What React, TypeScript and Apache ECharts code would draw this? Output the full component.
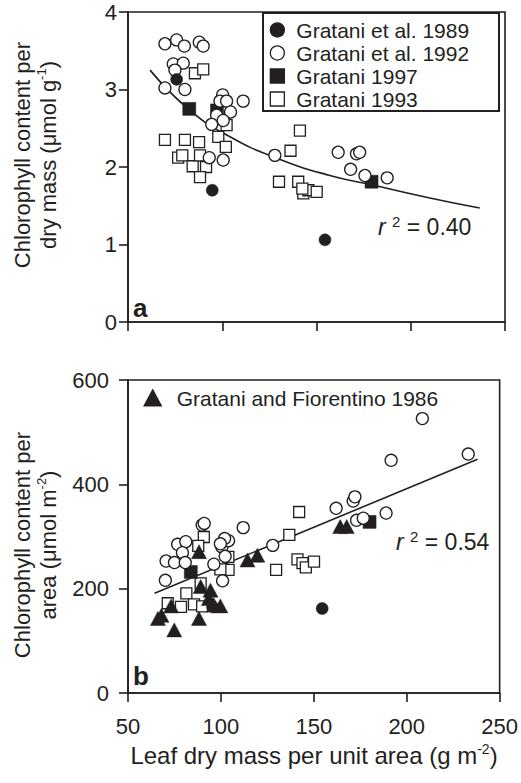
import React, { useEffect, useRef } from "react";
import * as echarts from "echarts";

const FONT = "'Liberation Sans', Arial, Helvetica, sans-serif";
const INK = "#231f20";

// shared x axis
const X_MIN = 50;
const X_MAX = 250;
const X_STEP = 50;

// y axes
const MASS_Y_MIN = 0;
const MASS_Y_MAX = 4;
const MASS_Y_STEP = 1;
const AREA_Y_MIN = 0;
const AREA_Y_MAX = 600;
const AREA_Y_STEP = 200;

const N1989 = "Gratani et al. 1989";
const N1992 = "Gratani et al. 1992";
const N1997 = "Gratani 1997";
const N1993 = "Gratani 1993";
const N1986 = "Gratani and Fiorentino 1986";
const LEGEND_TOP = [N1989, N1992, N1997, N1993];

// ---- panel a: chlorophyll per dry mass (µmol g-1) ----
const massG1989 = [[75.8, 3.13], [94.7, 1.70], [154.5, 1.06]];
const massG1992 = [
  [69.6, 3.59], [75.8, 3.64], [79.9, 3.56], [87.8, 3.61], [89.9, 3.56],
  [74.0, 3.33], [79.3, 3.34], [74.9, 3.25], [69.6, 3.02], [80.2, 3.00],
  [100.2, 2.93], [98.8, 2.85], [102.3, 2.85], [111.1, 2.85], [104.4, 2.71],
  [97.0, 2.67], [100.5, 2.60], [94.4, 2.55], [93.1, 2.12], [100.5, 2.09],
  [127.9, 2.15], [161.5, 2.19], [171.2, 2.17], [172.9, 2.19], [168.1, 1.97],
  [175.7, 1.89], [187.5, 1.86],
];
const massG1997 = [[82.5, 2.75], [97.2, 2.73], [179.2, 1.81]];
const massG1993 = [
  [85.5, 3.21], [89.9, 3.26], [69.6, 2.35], [80.2, 2.35], [87.7, 2.32],
  [76.6, 2.12], [78.8, 2.15], [84.3, 2.01], [88.2, 2.15], [91.4, 2.00],
  [88.2, 1.87], [102.3, 2.54], [97.9, 2.39], [101.9, 2.26], [141.2, 2.47],
  [136.2, 2.21], [130.1, 1.81], [140.3, 1.81], [143.0, 1.66], [145.7, 1.70],
  [150.1, 1.68], [142.5, 1.72],
];
const massFitCurve = [
  [61.7, 3.25], [82.9, 2.73], [104.1, 2.39], [128.3, 2.12], [157.1, 1.89],
  [179.2, 1.77], [210.1, 1.60], [236.6, 1.47],
];

// ---- panel b: chlorophyll per area (µmol m-2) ----
const areaG1989 = [[95.5, 165], [154.5, 162]];
const areaG1992 = [
  [89.9, 322], [91.0, 325], [112.0, 317], [76.7, 285], [81.1, 290],
  [79.3, 269], [70.5, 253], [75.0, 250], [80.8, 250], [70.1, 216],
  [100.5, 280], [104.1, 292], [102.0, 296], [99.7, 286], [102.3, 262],
  [96.2, 247], [100.9, 215], [127.9, 283], [162.0, 354], [171.2, 368],
  [172.1, 376], [173.0, 331], [176.6, 335], [188.9, 345], [191.6, 446],
  [208.4, 526], [233.1, 458],
];
const areaG1997 = [[83.8, 232], [180.0, 328]];
const areaG1993 = [
  [90.8, 299], [87.8, 282], [81.4, 191], [71.4, 172], [78.5, 165],
  [85.5, 170], [89.9, 166], [89.1, 210], [104.1, 236], [99.7, 237],
  [104.0, 261], [129.7, 236], [136.8, 303], [142.1, 347], [141.2, 256],
  [143.9, 249], [145.7, 241], [150.1, 252],
];
const areaGF1986 = [
  [88.2, 271], [114.3, 255], [119.6, 264], [89.1, 204], [94.4, 197],
  [93.5, 181], [96.2, 169], [99.7, 167], [73.2, 167], [66.1, 143],
  [68.0, 149], [88.2, 143], [74.9, 121], [164.2, 319], [167.7, 319],
];
const areaFitLine = [[64.3, 191], [238.1, 448]];

const R2_A = "0.40";
const R2_B = "0.54";

function scatter(name: string, panel: number, data: number[][], symbol: string, size: any, filled: boolean) {
  return {
    type: "scatter",
    name,
    xAxisIndex: panel,
    yAxisIndex: panel,
    data,
    symbol,
    symbolSize: size,
    silent: true,
    emphasis: { disabled: true },
    itemStyle: filled
      ? { color: INK, borderColor: INK, borderWidth: 0.5, opacity: 1 }
      : { color: "#fff", borderColor: INK, borderWidth: 1.3, opacity: 1 },
  };
}

function fitLine(name: string, panel: number, data: number[][], smooth: boolean) {
  return {
    type: "line",
    name,
    xAxisIndex: panel,
    yAxisIndex: panel,
    data,
    smooth,
    symbol: "none",
    showSymbol: false,
    silent: true,
    lineStyle: { color: INK, width: 1.6 },
    z: 1,
  };
}

function xAxis(panel: number) {
  return {
    type: "value",
    gridIndex: panel,
    min: X_MIN,
    max: X_MAX,
    interval: X_STEP,
    axisLine: { show: true, onZero: false, lineStyle: { color: INK, width: 1.6 } },
    axisTick: { show: true, inside: false, length: 9, lineStyle: { color: INK, width: 1.6 } },
    axisLabel: { show: panel === 1, fontSize: 22, color: INK, fontFamily: FONT, margin: 22 },
    splitLine: { show: false },
  };
}

function yAxis(panel: number, min: number, max: number, step: number, margin: number) {
  return {
    type: "value",
    gridIndex: panel,
    min,
    max,
    interval: step,
    axisLine: { show: true, onZero: false, lineStyle: { color: INK, width: 1.6 } },
    axisTick: { show: true, inside: false, length: 9, lineStyle: { color: INK, width: 1.6 } },
    axisLabel: { fontSize: 22, color: INK, fontFamily: FONT, margin },
    splitLine: { show: false },
  };
}

const titleRich = {
  n: { fontSize: 22, fontFamily: FONT, fill: INK, lineHeight: 26 },
  s: { fontSize: 13, fontFamily: FONT, fill: INK, lineHeight: 12, verticalAlign: "top" },
};

const r2Rich = {
  i: { fontSize: 23, fontFamily: FONT, fontStyle: "italic", fill: INK, lineHeight: 26 },
  s: { fontSize: 15, fontFamily: FONT, fill: INK, lineHeight: 12, verticalAlign: "top" },
  n: { fontSize: 23, fontFamily: FONT, fill: INK, lineHeight: 26 },
};

export default function App() {
  const ref = useRef<HTMLDivElement>(null);

  useEffect(() => {
    if (!ref.current) return;
    const chart = echarts.init(ref.current, undefined, { renderer: "svg" });
    const option: any = {
      animation: false,
      backgroundColor: "#fff",
      textStyle: { fontFamily: FONT },
      grid: [
        { left: 128, top: 12, width: 377, height: 310, show: true, borderColor: INK, borderWidth: 1.6, backgroundColor: "transparent" },
        { left: 128, top: 380, width: 377, height: 313, show: true, borderColor: INK, borderWidth: 1.6, backgroundColor: "transparent" },
      ],
      xAxis: [xAxis(0), xAxis(1)],
      yAxis: [
        yAxis(0, MASS_Y_MIN, MASS_Y_MAX, MASS_Y_STEP, 11),
        yAxis(1, AREA_Y_MIN, AREA_Y_MAX, AREA_Y_STEP, 19),
      ],
      legend: [
        {
          data: LEGEND_TOP,
          orient: "vertical",
          left: 269.7,
          top: 19.5,
          padding: 0,
          itemWidth: 14,
          itemHeight: 14,
          itemGap: 2,
          selectedMode: false,
          itemStyle: { borderWidth: 1.3 },
          textStyle: { fontSize: 21, color: INK, fontFamily: FONT, lineHeight: 21, padding: [0, 0, 0, 7] },
        },
        {
          data: [N1986],
          orient: "vertical",
          left: 143.7,
          top: 387.5,
          padding: 0,
          itemWidth: 16,
          itemHeight: 15,
          selectedMode: false,
          textStyle: { fontSize: 21, color: INK, fontFamily: FONT, lineHeight: 21, padding: [0, 0, 0, 11] },
        },
      ],
      series: [
        fitLine("fit a", 0, massFitCurve, true),
        scatter(N1993, 0, massG1993, "rect", 11, false),
        scatter(N1997, 0, massG1997, "rect", 13, true),
        scatter(N1992, 0, massG1992, "circle", 12, false),
        scatter(N1989, 0, massG1989, "circle", 12, true),
        fitLine("fit b", 1, areaFitLine, false),
        scatter(N1993, 1, areaG1993, "rect", 11, false),
        scatter(N1997, 1, areaG1997, "rect", 13, true),
        scatter(N1992, 1, areaG1992, "circle", 12, false),
        scatter(N1989, 1, areaG1989, "circle", 12, true),
        scatter(N1986, 1, areaGF1986, "triangle", [15, 14], true),
      ],
      graphic: [
        {
          type: "rect",
          shape: { x: 263, y: 13, width: 236, height: 98 },
          style: { fill: "none", stroke: INK, lineWidth: 2 },
          silent: true,
        },
        {
          type: "text",
          x: 133,
          y: 308,
          style: { text: "a", fontSize: 26, fontWeight: "bold", fontFamily: FONT, fill: INK, align: "left", verticalAlign: "middle" },
        },
        {
          type: "text",
          x: 133,
          y: 676,
          style: { text: "b", fontSize: 26, fontWeight: "bold", fontFamily: FONT, fill: INK, align: "left", verticalAlign: "middle" },
        },
        {
          type: "text",
          x: 378,
          y: 227,
          style: { text: `{i|r }{s|2}{n| = ${R2_A}}`, rich: r2Rich, align: "left", verticalAlign: "middle" },
        },
        {
          type: "text",
          x: 396,
          y: 542,
          style: { text: `{i|r }{s|2}{n| = ${R2_B}}`, rich: r2Rich, align: "left", verticalAlign: "middle" },
        },
        {
          type: "text",
          x: 35,
          y: 155,
          rotation: Math.PI / 2,
          style: {
            text: "{n|Chlorophyll content per}\n{n|dry mass (\u03bcmol g}{s|-1}{n|)}",
            rich: titleRich,
            align: "center",
            verticalAlign: "middle",
          },
        },
        {
          type: "text",
          x: 35,
          y: 545,
          rotation: Math.PI / 2,
          style: {
            text: "{n|Chlorophyll content per}\n{n|area (\u03bcmol m}{s|-2}{n|)}",
            rich: titleRich,
            align: "center",
            verticalAlign: "middle",
          },
        },
        {
          type: "text",
          x: 314,
          y: 755,
          style: {
            text: "{n|Leaf dry mass per unit area (g m}{s|-2}{n|)}",
            rich: {
              n: { fontSize: 24, fontFamily: FONT, fill: INK, lineHeight: 27 },
              s: { fontSize: 14, fontFamily: FONT, fill: INK, lineHeight: 12, verticalAlign: "top" },
            },
            align: "center",
            verticalAlign: "middle",
          },
        },
      ],
    };
    chart.setOption(option);
    return () => chart.dispose();
  }, []);

  return (
    <div
      ref={ref}
      style={{ position: "fixed", left: 0, top: 0, width: 521, height: 783, background: "#fff" }}
    />
  );
}
